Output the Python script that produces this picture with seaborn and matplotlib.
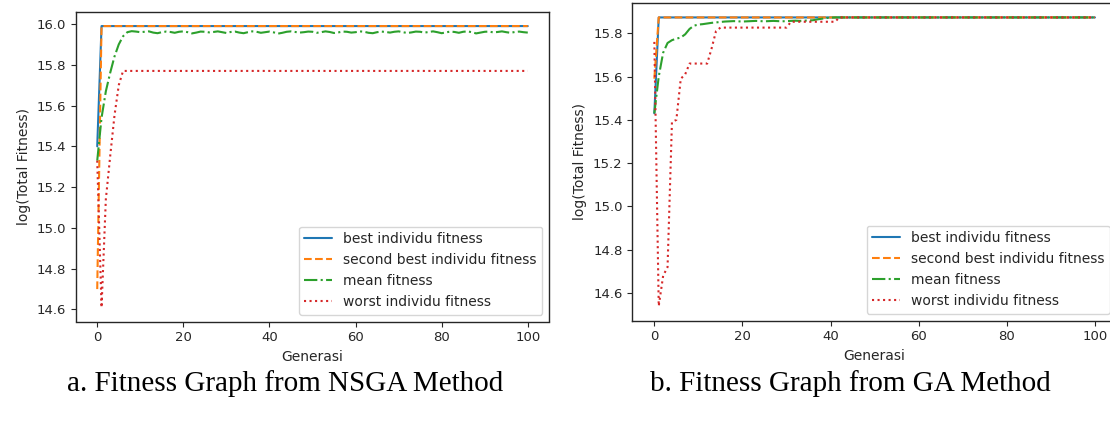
import numpy as np
import pandas as pd
import matplotlib
matplotlib.use("Agg")
import matplotlib.pyplot as plt
import seaborn as sns

sns.set_theme(style="ticks", rc={
    "axes.linewidth": 1.0,
    "xtick.major.size": 3.5, "ytick.major.size": 3.5,
    "xtick.major.width": 0.8, "ytick.major.width": 0.8,
    "lines.linewidth": 1.5,
    "font.size": 10, "axes.labelsize": 10,
    "xtick.labelsize": 9.5, "ytick.labelsize": 9.5, "legend.fontsize": 10,
})
plt.rcParams["font.family"] = ["DejaVu Sans"]

generasi = list(range(101))
labels = ["best individu fitness", "second best individu fitness",
          "mean fitness", "worst individu fitness"]
colors = ["#1f77b4", "#ff7f0e", "#2ca02c", "#d62728"]
styles = ["-", "--", "-.", ":"]

# --- NSGA (left) ---
best_nsga = [15.40] + [15.99] * 100
second_nsga = [14.70] + [15.99] * 100
mean_nsga = [15.33, 15.54, 15.67, 15.76, 15.84, 15.90, 15.94, 15.96, 15.965, 15.963,
             15.960, 15.962, 15.964, 15.958, 15.955, 15.960, 15.963, 15.961, 15.957, 15.962,
             15.964, 15.960, 15.954, 15.958, 15.963, 15.962, 15.959, 15.961, 15.964, 15.960,
             15.956, 15.961, 15.963, 15.958, 15.955, 15.960, 15.964, 15.962, 15.957, 15.960,
             15.963, 15.959, 15.953, 15.957, 15.962, 15.964, 15.961, 15.958, 15.960, 15.963,
             15.962, 15.957, 15.960, 15.964, 15.961, 15.956, 15.959, 15.963, 15.962, 15.958,
             15.960, 15.964, 15.962, 15.957, 15.955, 15.960, 15.963, 15.961, 15.958, 15.962,
             15.964, 15.960, 15.956, 15.959, 15.963, 15.962, 15.958, 15.961, 15.964, 15.960,
             15.955, 15.959, 15.963, 15.961, 15.957, 15.962, 15.964, 15.960, 15.954, 15.958,
             15.962, 15.963, 15.959, 15.961, 15.964, 15.960, 15.957, 15.961, 15.963, 15.960,
             15.958]
worst_nsga = [15.33, 14.61, 15.14, 15.35, 15.55, 15.70, 15.77] + [15.77] * 94

# --- GA (right) ---
best_ga = [15.43] + [15.873] * 100
second_ga = [15.59] + [15.873] * 100
mean_ga = ([15.43, 15.60, 15.71, 15.755, 15.768, 15.775, 15.78, 15.795, 15.82, 15.835,
            15.840, 15.842, 15.845, 15.848, 15.850, 15.852, 15.854, 15.855, 15.856, 15.855,
            15.854, 15.855, 15.856, 15.857, 15.856, 15.855, 15.856, 15.857, 15.856, 15.855,
            15.856, 15.857, 15.858, 15.857, 15.858, 15.859, 15.860, 15.864, 15.867, 15.870,
            15.872] + [15.873] * 60)
worst_ga = ([15.76, 14.54, 14.68, 14.72, 15.39, 15.40, 15.59, 15.61, 15.66, 15.66,
             15.66, 15.66, 15.66, 15.73, 15.81] + [15.826] * 16 + [15.853] * 11
            + [15.873] * 59)

W, H = 1110, 428
fig = plt.figure(figsize=(W / 100, H / 100), dpi=100)
ax1 = fig.add_axes([75.7 / W, 1 - 321.5 / H, (549.3 - 75.7) / W, (321.5 - 12) / H])
ax2 = fig.add_axes([632.3 / W, 1 - 320.5 / H, (1117 - 632.3) / W, (320.5 - 3) / H])

panels = [(ax1, [best_nsga, second_nsga, mean_nsga, worst_nsga]),
          (ax2, [best_ga, second_ga, mean_ga, worst_ga])]

for ax, series in panels:
    for vals, lab, col, ls in zip(series, labels, colors, styles):
        sns.lineplot(x=generasi, y=vals, ax=ax, label=lab, color=col, linestyle=ls)
    ax.set_xlabel("Generasi")
    ax.set_ylabel("log(Total Fitness)")
    ax.set_xticks([0, 20, 40, 60, 80, 100])
    ax.legend(loc="lower right")

fig.text(285 / W, 1 - 384 / H, "a. Fitness Graph from NSGA Method",
         family="Liberation Serif", fontsize=21, ha="center", va="center", color="black")
fig.text(850 / W, 1 - 384 / H, "b. Fitness Graph from GA Method",
         family="Liberation Serif", fontsize=21, ha="center", va="center", color="black")

fig.savefig("out.png", dpi=100)
